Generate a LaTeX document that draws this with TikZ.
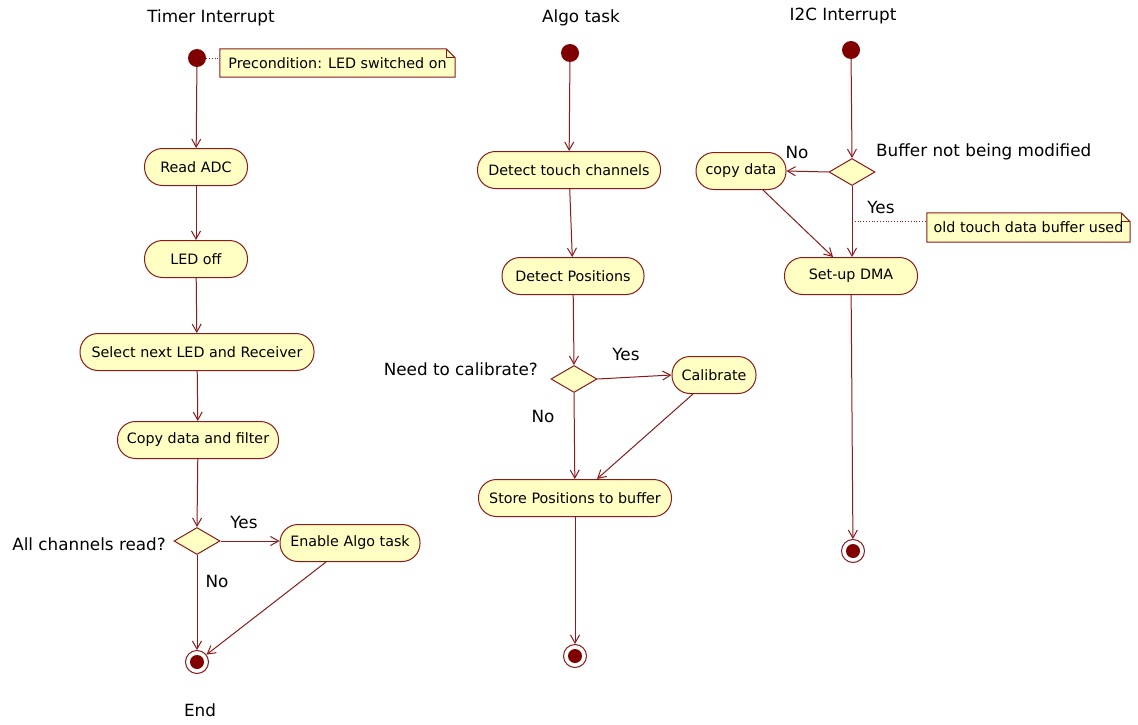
\documentclass[tikz,border=0pt]{standalone}
\usepackage{fontspec}
\setmainfont{DejaVu Sans}
\usetikzlibrary{arrows.meta,shapes.geometric}
\definecolor{bd}{HTML}{8B1A1A}
\definecolor{fillY}{HTML}{FFFFC4}
\definecolor{dot}{HTML}{800000}
\tikzset{
  act/.style={draw=bd, fill=fillY, rounded corners=18pt, minimum height=37pt, inner sep=0pt, font=\fontsize{14.3}{16}\selectfont, line width=1pt},
  dec/.style={diamond, draw=bd, fill=fillY, minimum width=46pt, minimum height=27pt, inner sep=0pt, line width=1pt},
  initst/.style={circle, fill=dot, minimum size=18pt, inner sep=0pt},
  endst/.style={circle, draw=bd, fill=white, minimum size=23pt, inner sep=0pt, line width=1pt},
  lbl/.style={font=\fontsize{16.8}{19}\selectfont, inner sep=0pt},
  notetxt/.style={font=\fontsize{14.3}{16}\selectfont, inner sep=0pt},
  flow/.style={draw=bd, line width=1pt, -{Straight Barb[length=8pt,width=9pt]}},
  notelink/.style={draw=bd, dotted, line width=0.8pt},
  notebox/.style={draw=bd, fill=fillY, line width=1pt},
}
\begin{document}
\begin{tikzpicture}[x=1pt,y=-1pt]
\useasboundingbox[fill=white] (0,0) rectangle (1138,725);

% ---------- Column 1: Timer Interrupt ----------
\node[lbl] (t1) at (211,18) {Timer Interrupt};
\node[initst] (i1) at (197,58) {};
\node[act, minimum width=103pt] (readadc) at (196,167) {Read ADC};
\node[act, minimum width=103pt] (ledoff) at (196,259) {LED off};
\node[act, minimum width=234pt] (select) at (197,352) {Select next LED and Receiver};
\node[act, minimum width=161pt] (copyf) at (198,440) {Copy data and filter};
\node[dec] (d1) at (197,541) {};
\node[lbl, anchor=east] (lall) at (166,544) {All channels read?};
\node[lbl] (lyes1) at (244,522) {Yes};
\node[lbl] (lno1) at (217,581) {No};
\node[act, minimum width=140pt] (enable) at (350,543) {Enable Algo task};
\node[endst] (e1) at (197,662) {};
\fill[dot] (e1.center) circle (7pt);
\node[lbl] (lend) at (200,710) {End};

% note 1
\node[notetxt, minimum width=235pt, minimum height=28pt] (n1) at (337.5,63) {Precondition: LED switched on};
\filldraw[notebox] (n1.north west) -- ([xshift=-9pt]n1.north east) -- ([yshift=-9pt]n1.north east) -- (n1.south east) -- (n1.south west) -- cycle;
\draw[draw=bd, line width=1pt] ([xshift=-9pt]n1.north east) -- ([xshift=-9pt,yshift=-9pt]n1.north east) -- ([yshift=-9pt]n1.north east);
\node[notetxt] at (n1.center) {Precondition: LED switched on};
\draw[notelink] (i1) -- (n1.west |- i1);

\draw[flow] (i1) -- (readadc);
\draw[flow] (readadc) -- (ledoff);
\draw[flow] (ledoff) -- (select);
\draw[flow] (select) -- (copyf);
\draw[flow] (copyf) -- (d1.north);
\draw[flow] (d1.east) -- (enable.west |- d1.east);
\draw[flow] (d1.south) -- (e1);
\draw[flow] ([xshift=-24pt]enable.south) -- (e1);

% ---------- Column 2: Algo task ----------
\node[lbl] (t2) at (581,18) {Algo task};
\node[initst] (i2) at (570,53) {};
\node[act, minimum width=183pt] (dtouch) at (569,170) {Detect touch channels};
\node[act, minimum width=142pt] (dpos) at (573,276) {Detect Positions};
\node[dec] (d2) at (574,379) {};
\node[lbl, anchor=east] (lneed) at (538,369) {Need to calibrate?};
\node[lbl] (lyes2) at (626,354) {Yes};
\node[lbl] (lno2) at (543,416) {No};
\node[act, minimum width=84pt] (calib) at (714,375) {Calibrate};
\node[act, minimum width=193pt] (store) at (575,498) {Store Positions to buffer};
\node[endst] (e2) at (575,656) {};
\fill[dot] (e2.center) circle (7pt);

\draw[flow] (i2) -- (dtouch);
\draw[flow] (dtouch) -- (dpos);
\draw[flow] (dpos) -- (d2.north);
\draw[flow] (d2.east) -- (calib.west);
\draw[flow] (d2.south) -- (store);
\draw[flow] ([xshift=-21pt]calib.south) -- ([xshift=22pt]store.north);
\draw[flow] (store) -- (e2);

% ---------- Column 3: I2C Interrupt ----------
\node[lbl] (t3) at (843,16) {I2C Interrupt};
\node[initst] (i3) at (851,50) {};
\node[dec] (d3) at (852,172) {};
\node[lbl, anchor=west] (lbuf) at (876,152) {Buffer not being modified};
\node[lbl] (lno3) at (797,152) {No};
\node[lbl] (lyes3) at (881,207) {Yes};
\node[act, minimum width=90pt] (cdata) at (741,171) {copy data};
\node[act, minimum width=133pt] (dma) at (851,276) {Set-up DMA};
\node[endst] (e3) at (853,551) {};
\fill[dot] (e3.center) circle (7pt);

% note 2
\node[notetxt, minimum width=203pt, minimum height=29pt] (n2) at (1028.5,227.5) {old touch data buffer used};
\filldraw[notebox] (n2.north west) -- ([xshift=-9pt]n2.north east) -- ([yshift=-9pt]n2.north east) -- (n2.south east) -- (n2.south west) -- cycle;
\draw[draw=bd, line width=1pt] ([xshift=-9pt]n2.north east) -- ([xshift=-9pt,yshift=-9pt]n2.north east) -- ([yshift=-9pt]n2.north east);
\node[notetxt] at (n2.center) {old touch data buffer used};
\coordinate (c3) at (852,221);
\draw[notelink] (c3) -- (n2.west |- c3);

\draw[flow] (i3) -- (d3.north);
\draw[flow] (d3.west) -- (cdata.east);
\draw[flow] (d3.south) -- (d3.south |- dma.north);
\draw[flow] ([xshift=22pt]cdata.south) -- ([xshift=-18pt]dma.north);
\draw[flow] (dma) -- (e3);
\end{tikzpicture}
\end{document}
